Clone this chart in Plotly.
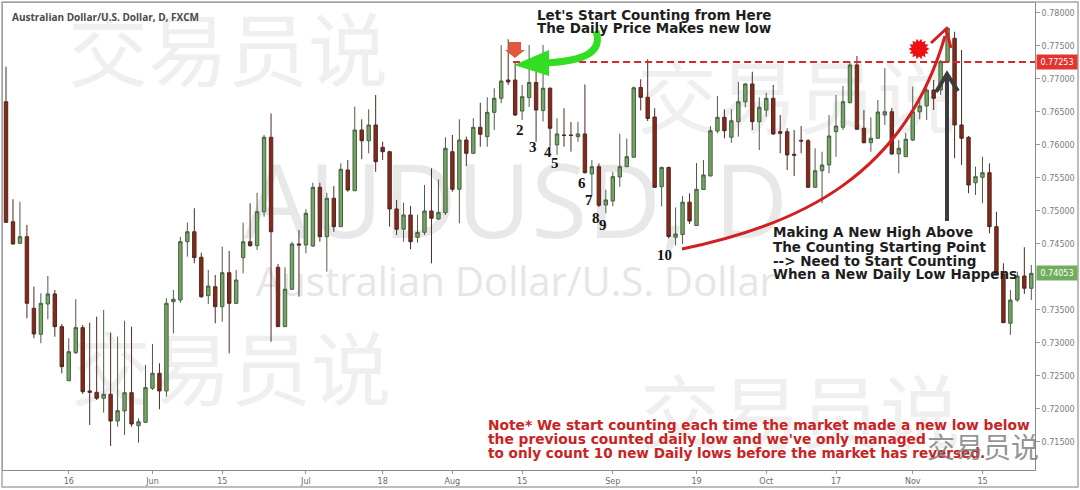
import math
import pandas as pd
import plotly.graph_objects as go

# ---------------- data ----------------
dates = [d.strftime("%Y-%m-%d") for d in pd.bdate_range("2017-05-03", "2017-11-24")]

open_ = [0.76652, 0.74835, 0.74508, 0.74608, 0.73524, 0.73130, 0.73589, 0.73741, 0.73246, 0.72427,
         0.72851, 0.73231, 0.72272, 0.72252, 0.72162, 0.72222, 0.71817, 0.71969, 0.72246, 0.71746,
         0.71797, 0.72313, 0.72539, 0.72272, 0.73623, 0.73649, 0.74532, 0.74683, 0.74297, 0.73715,
         0.73851, 0.73548, 0.74063, 0.73599, 0.74291, 0.74532, 0.74472, 0.74986, 0.76114, 0.74145,
         0.73246, 0.73812, 0.74498, 0.74483, 0.74467, 0.75356, 0.74608, 0.75190, 0.74760, 0.75618,
         0.75304, 0.76224, 0.76061, 0.76300, 0.75962, 0.75895, 0.75028, 0.74721, 0.74937, 0.74599,
         0.74674, 0.74997, 0.74876, 0.74971, 0.75895, 0.75326, 0.76072, 0.75871, 0.76265, 0.76123,
         0.76491, 0.76704, 0.76981, 0.76981, 0.76511, 0.76716, 0.76943, 0.76518, 0.76856, 0.75997,
         0.76149, 0.76149, 0.76123, 0.76164, 0.75558, 0.75668, 0.75089, 0.75149, 0.75512, 0.75668,
         0.75811, 0.76868, 0.76719, 0.76420, 0.75365, 0.75656, 0.74599, 0.74641, 0.75131, 0.74778,
         0.75323, 0.75527, 0.76209, 0.76416, 0.76114, 0.76349, 0.76652, 0.76921, 0.76349, 0.76526,
         0.76704, 0.76198, 0.76198, 0.75856, 0.76067, 0.76061, 0.75356, 0.75607, 0.75694, 0.76198,
         0.76265, 0.76637, 0.77209, 0.76250, 0.76031, 0.76099, 0.76451, 0.76500, 0.75861, 0.75820,
         0.76072, 0.76500, 0.76587, 0.76829, 0.76829, 0.77258, 0.77613, 0.76300, 0.76114, 0.75425,
         0.75508, 0.75577, 0.74760, 0.74044, 0.73297, 0.73649, 0.74013, 0.73827]

high = [0.77183, 0.75175, 0.75138, 0.74786, 0.73851, 0.73751, 0.74013, 0.73801, 0.73287, 0.73070,
        0.73661, 0.73272, 0.73306, 0.73397, 0.73498, 0.73154, 0.73094, 0.73336, 0.73246, 0.71859,
        0.72666, 0.72984, 0.72691, 0.73676, 0.73801, 0.74608, 0.74820, 0.75039, 0.74366, 0.74104,
        0.74029, 0.74457, 0.74392, 0.74104, 0.74820, 0.75114, 0.75274, 0.76149, 0.76476, 0.74195,
        0.74145, 0.74532, 0.74709, 0.75024, 0.75425, 0.75425, 0.75274, 0.75375, 0.75719, 0.75769,
        0.76577, 0.76386, 0.76538, 0.76754, 0.76046, 0.75910, 0.75164, 0.75123, 0.75073, 0.74937,
        0.75391, 0.75644, 0.75478, 0.76114, 0.76149, 0.76386, 0.76123, 0.76401, 0.76637, 0.76719,
        0.76856, 0.77511, 0.77598, 0.77253, 0.76906, 0.77511, 0.77102, 0.77511, 0.76871, 0.76401,
        0.76553, 0.76345, 0.76349, 0.76913, 0.75769, 0.75719, 0.75320, 0.75585, 0.76168, 0.76093,
        0.76883, 0.76992, 0.77295, 0.76553, 0.75671, 0.75671, 0.75051, 0.75224, 0.75265, 0.75724,
        0.75769, 0.76284, 0.76738, 0.76538, 0.76538, 0.76955, 0.76936, 0.77106, 0.76719, 0.76788,
        0.76906, 0.76451, 0.76250, 0.76224, 0.76284, 0.76088, 0.75947, 0.75895, 0.76451, 0.76754,
        0.76890, 0.77258, 0.77344, 0.76526, 0.76416, 0.76678, 0.77163, 0.76557, 0.76072, 0.76179,
        0.76880, 0.76689, 0.76955, 0.76981, 0.77284, 0.77788, 0.77712, 0.77435, 0.76133, 0.75668,
        0.75820, 0.75719, 0.74986, 0.74205, 0.73801, 0.74078, 0.74448, 0.74180]

low = [0.74816, 0.74483, 0.74498, 0.73373, 0.73070, 0.72994, 0.73358, 0.73094, 0.72539, 0.72423,
       0.72832, 0.72227, 0.71757, 0.72135, 0.71943, 0.71439, 0.71731, 0.71606, 0.71731, 0.71489,
       0.71787, 0.72287, 0.71995, 0.72186, 0.73145, 0.73608, 0.74306, 0.74205, 0.73680, 0.73589,
       0.73297, 0.73321, 0.72842, 0.73589, 0.74054, 0.74457, 0.74407, 0.74911, 0.73018, 0.73241,
       0.73241, 0.73801, 0.73700, 0.74357, 0.74452, 0.74532, 0.74078, 0.74683, 0.74755, 0.75289,
       0.75300, 0.75781, 0.75871, 0.75592, 0.75769, 0.74760, 0.74634, 0.74532, 0.74418, 0.74517,
       0.74634, 0.74205, 0.74861, 0.74937, 0.75289, 0.74811, 0.75678, 0.75861, 0.75971, 0.75971,
       0.76224, 0.76628, 0.76906, 0.76435, 0.76375, 0.76572, 0.76046, 0.76352, 0.75971, 0.75846,
       0.75971, 0.75895, 0.76046, 0.75565, 0.75240, 0.75058, 0.74962, 0.75069, 0.75365, 0.75663,
       0.75811, 0.76521, 0.76360, 0.75345, 0.75066, 0.74584, 0.74475, 0.74498, 0.74801, 0.74770,
       0.75315, 0.75527, 0.76174, 0.76099, 0.76031, 0.76123, 0.76568, 0.76224, 0.75921, 0.76425,
       0.76149, 0.75871, 0.75618, 0.75527, 0.75871, 0.75345, 0.75345, 0.75114, 0.75568, 0.75820,
       0.76224, 0.76628, 0.76224, 0.76022, 0.75895, 0.76088, 0.76300, 0.75846, 0.75568, 0.75815,
       0.76057, 0.76386, 0.76375, 0.76526, 0.76754, 0.77253, 0.75796, 0.75694, 0.75265, 0.75240,
       0.75114, 0.74659, 0.74029, 0.73302, 0.73120, 0.73623, 0.73741, 0.73649]

close = [0.74826, 0.74498, 0.74608, 0.73599, 0.73135, 0.73599, 0.73741, 0.73246, 0.72640, 0.72866,
         0.73231, 0.72261, 0.72252, 0.72162, 0.72222, 0.71817, 0.71973, 0.72246, 0.71772, 0.71806,
         0.72322, 0.72539, 0.72272, 0.73599, 0.73661, 0.74532, 0.74683, 0.74291, 0.73700, 0.73861,
         0.73548, 0.74063, 0.73599, 0.73952, 0.74532, 0.74472, 0.74986, 0.76114, 0.74683, 0.73246,
         0.73812, 0.74498, 0.74483, 0.74962, 0.75356, 0.74608, 0.75190, 0.74760, 0.75629, 0.75315,
         0.76224, 0.76061, 0.76300, 0.75743, 0.75895, 0.75028, 0.74721, 0.74937, 0.74532, 0.74674,
         0.74997, 0.74887, 0.74977, 0.75947, 0.75326, 0.76072, 0.75871, 0.76265, 0.76159, 0.76491,
         0.76704, 0.76966, 0.76951, 0.76451, 0.76728, 0.76943, 0.76526, 0.76856, 0.76250, 0.76164,
         0.76141, 0.76141, 0.76164, 0.75577, 0.75668, 0.75084, 0.75164, 0.75517, 0.75668, 0.75820,
         0.76863, 0.76719, 0.76398, 0.75356, 0.75656, 0.74611, 0.74649, 0.75131, 0.74846, 0.75326,
         0.75543, 0.76213, 0.76416, 0.76213, 0.76364, 0.76652, 0.76921, 0.76349, 0.76568, 0.76704,
         0.76164, 0.76174, 0.75846, 0.75841, 0.76057, 0.75356, 0.75607, 0.75694, 0.76133, 0.76284,
         0.76652, 0.77209, 0.76235, 0.76031, 0.76099, 0.76496, 0.76500, 0.75861, 0.75947, 0.76084,
         0.76500, 0.76587, 0.76829, 0.76704, 0.77258, 0.77764, 0.76300, 0.76099, 0.75391, 0.75517,
         0.75577, 0.74760, 0.74044, 0.73306, 0.73649, 0.74013, 0.73827, 0.74053]

tick_dates = ["2017-05-16", "2017-06-01", "2017-06-15", "2017-07-03", "2017-07-18", "2017-08-01",
              "2017-08-15", "2017-09-01", "2017-09-19", "2017-10-03", "2017-10-17", "2017-11-01",
              "2017-11-15"]
tick_text = ["16", "Jun", "15", "Jul", "18", "Aug", "15", "Sep", "19", "Oct", "17", "Nov", "15"]

price_ticks = [0.715, 0.720, 0.725, 0.730, 0.735, 0.745, 0.750, 0.755,
               0.760, 0.765, 0.770, 0.775, 0.780]

start_date = "2017-08-14"
start_level = 0.77253
last_close = 0.74053

count_dates = ["2017-08-15", "2017-08-17", "2017-08-21", "2017-08-22", "2017-08-28",
               "2017-08-29", "2017-08-30", "2017-08-31", "2017-09-13"]
count_labels = ["2", "3", "4", "5", "6", "7", "8", "9", "10"]

# ---------------- layout helpers (pixel -> paper) ----------------
W, H = 1080, 490
ML, MR, MT, MB = 3, 45, 3, 20
PW, PH = W - ML - MR, H - MT - MB
XMIN, XMAX = -0.43, 147.53
YMIN, YMAX = 0.71075, 0.78147


def fx(X):
    return (X - ML) / PW


def fy(Y):
    return 1 - (Y - MT) / PH


def P(*segs):
    out = []
    for seg in segs:
        cmd, coords = seg[0], seg[1:]
        pts = [f"{fx(coords[i]):.5f},{fy(coords[i + 1]):.5f}" for i in range(0, len(coords), 2)]
        out.append((cmd + " " + " ".join(pts)).strip())
    return " ".join(out)


def star_path(cx, cy, r_out, r_in, n):
    pts = []
    for k in range(2 * n):
        r = r_out if k % 2 == 0 else r_in
        a = math.pi * k / n
        pts.append((cx + r * math.cos(a), cy + r * math.sin(a)))
    return "M " + " L ".join(f"{fx(x):.5f},{fy(y):.5f}" for x, y in pts) + " Z"


fig = go.Figure()

fig.add_trace(go.Candlestick(
    x=dates, open=open_, high=high, low=low, close=close,
    increasing=dict(fillcolor="#72a760", line=dict(color="#4a5e45", width=1)),
    decreasing=dict(fillcolor="#8b2716", line=dict(color="#4e2a24", width=1)),
    hoverinfo="skip", showlegend=False,
))

shapes = []
annotations = []


def watermark(cx, cy, w, h, text, size, color, family):
    shapes.append(dict(
        type="rect", xref="paper", yref="paper", layer="below",
        x0=fx(cx - w / 2), x1=fx(cx + w / 2), y0=fy(cy + h / 2), y1=fy(cy - h / 2),
        line=dict(width=0), fillcolor="rgba(0,0,0,0)",
        label=dict(text=text, textposition="middle center",
                   font=dict(size=size, color=color, family=family)),
    ))


cjk = "Noto Sans CJK SC"
watermark(228, 58, 360, 124, "交易员说", 80, "#efefef", cjk)
watermark(231, 377, 360, 124, "交易员说", 80, "#efefef", cjk)
watermark(797, 105, 360, 124, "交易员说", 80, "#efefef", cjk)
watermark(800, 420, 360, 124, "交易员说", 80, "#efefef", cjk)
watermark(516, 205, 580, 150, "AUDUSD, D", 102, "#e8e8e8", "Open Sans")
watermark(516, 283, 640, 60, "Australian Dollar/U.S. Dollar", 40, "#e6e6e6", "Open Sans")

# outer frame
shapes.append(dict(type="rect", xref="paper", yref="paper", x0=fx(2), x1=fx(1078), y0=fy(487), y1=fy(2),
                   line=dict(color="#a8a8a8", width=1.5), fillcolor="rgba(0,0,0,0)", layer="above"))

# red dashed level line
start_i = dates.index(start_date)
shapes.append(dict(type="line", xref="x", yref="y", x0=start_i - 0.3, x1=XMAX,
                   y0=start_level, y1=start_level,
                   line=dict(color="#d42a2a", width=2, dash="7px,4px")))

# red marker arrow above the start candle
shapes.append(dict(type="path", xref="paper", yref="paper",
                   path=P(("M", 509, 42), ("L", 521, 42), ("L", 521, 50), ("L", 525, 50),
                          ("L", 515, 58), ("L", 505, 50), ("L", 509, 50), ("Z",)),
                   fillcolor="#e2583e", line=dict(width=0)))

# green curved arrow
shapes.append(dict(type="path", xref="paper", yref="paper",
                   path=P(("M", 596, 31), ("C", 603, 52, 585, 61, 545, 63)),
                   line=dict(color="#33dd22", width=7), fillcolor="rgba(0,0,0,0)"))
shapes.append(dict(type="path", xref="paper", yref="paper",
                   path=P(("M", 549, 50), ("L", 549, 76), ("L", 514, 65), ("Z",)),
                   fillcolor="#33dd22", line=dict(width=0)))

# red curved arrow
shapes.append(dict(type="path", xref="paper", yref="paper",
                   path=P(("M", 682, 249), ("C", 800, 225, 905, 175, 945, 36)),
                   line=dict(color="#d21f1f", width=3), fillcolor="rgba(0,0,0,0)"))
shapes.append(dict(type="path", xref="paper", yref="paper",
                   path=P(("M", 931, 43), ("L", 946, 29), ("L", 951, 48)),
                   line=dict(color="#d21f1f", width=3), fillcolor="rgba(0,0,0,0)"))

# red starburst
shapes.append(dict(type="path", xref="paper", yref="paper", path=star_path(919, 49, 10.5, 7.5, 14),
                   fillcolor="#ee1111", line=dict(width=0)))

# dark vertical arrow
shapes.append(dict(type="path", xref="paper", yref="paper",
                   path=P(("M", 947, 221), ("L", 947, 76)),
                   line=dict(color="#3c3c3c", width=4), fillcolor="rgba(0,0,0,0)"))
shapes.append(dict(type="path", xref="paper", yref="paper",
                   path=P(("M", 936, 92), ("L", 947, 74), ("L", 958, 91)),
                   line=dict(color="#3c3c3c", width=4), fillcolor="rgba(0,0,0,0)"))


# ---------------- texts ----------------
def text(x, y, s, size, color, family="DejaVu Sans", bold=True, anchor="left"):
    annotations.append(dict(xref="paper", yref="paper", x=fx(x), y=fy(y), text=s, showarrow=False,
                            xanchor=anchor, yanchor="middle",
                            font=dict(size=size, color=color, family=family,
                                      weight="bold" if bold else "normal")))


text(10, 17, "Australian Dollar/U.S. Dollar, D, FXCM", 10, "#4a4a4a", family="Open Sans")
text(535, 15, "Let's Start Counting from Here", 13.5, "#1e1e1e")
text(535, 28, "The Daily Price Makes new low", 13.5, "#1e1e1e")
text(771, 232, "Making A New High Above", 13.5, "#1e1e1e")
text(771, 247, "The Counting Starting Point", 13.5, "#1e1e1e")
text(771, 261, "--> Need to Start Counting", 13.5, "#1e1e1e")
text(771, 274, "When a New Daily Low Happens", 13.5, "#1e1e1e")
text(486, 425, "Note* We start counting each time the market made a new low below", 13.8, "#c92323")
text(486, 439, "the previous counted daily low and we've only managed", 13.8, "#c92323")
text(486, 453, "to only count 10 new Daily lows before the market has reversed.", 13.6, "#c92323")

# counting labels under each new low
label_dy = [10, 5, 5, 8, 9, 5, 11, 12, 17]
label_dx = [-2, -3, -2, -2, -3, -3, -3, -3, -4]
for d, lab, dy, dx in zip(count_dates, count_labels, label_dy, label_dx):
    i = dates.index(d)
    annotations.append(dict(xref="x", yref="y", x=i, y=low[i], text=lab, showarrow=False,
                            xanchor="center", yanchor="middle", yshift=-dy, xshift=dx,
                            font=dict(size=15, color="#111111", family="Liberation Serif",
                                      weight="bold")))

# price labels on the right axis
for lvl, col in [(start_level, "#e3342f"), (last_close, "#72ad5e")]:
    annotations.append(dict(xref="paper", yref="y", x=1.0, y=lvl, text=f"{lvl:.5f}",
                            showarrow=False, xanchor="left", yanchor="middle", xshift=1,
                            bgcolor=col, width=38, height=12, borderpad=1,
                            font=dict(size=8, color="white", family="DejaVu Sans")))

# bottom-right photo watermark
text(983, 446, "交易员说", 28, "rgba(120,120,120,0.8)", family=cjk, bold=False, anchor="center")

fig.update_layout(
    width=W, height=H, margin=dict(l=ML, r=MR, t=MT, b=MB, autoexpand=False),
    paper_bgcolor="white", plot_bgcolor="white", showlegend=False,
    shapes=shapes, annotations=annotations,
    xaxis=dict(type="category", range=[XMIN, XMAX], rangeslider=dict(visible=False),
               tickmode="array", tickvals=tick_dates, ticktext=tick_text,
               ticks="outside", ticklen=3, tickcolor="#9a9a9a",
               showline=True, linecolor="#8a8a8a", linewidth=1, mirror=True,
               showgrid=False, zeroline=False, automargin=False,
               tickfont=dict(size=8, color="#6a6a6a", family="DejaVu Sans")),
    yaxis=dict(side="right", range=[YMIN, YMAX], tickmode="array", tickvals=price_ticks,
               ticktext=[f"{v:.5f}" for v in price_ticks],
               ticks="outside", ticklen=4, tickcolor="#9a9a9a",
               showline=True, linecolor="#8a8a8a", linewidth=1, mirror=True,
               showgrid=False, zeroline=False, automargin=False,
               tickfont=dict(size=8, color="#7a7a7a", family="DejaVu Sans")),
)

fig.write_html("out.html", config={"displayModeBar": False},
               post_script="document.body.style.margin='0px';")
